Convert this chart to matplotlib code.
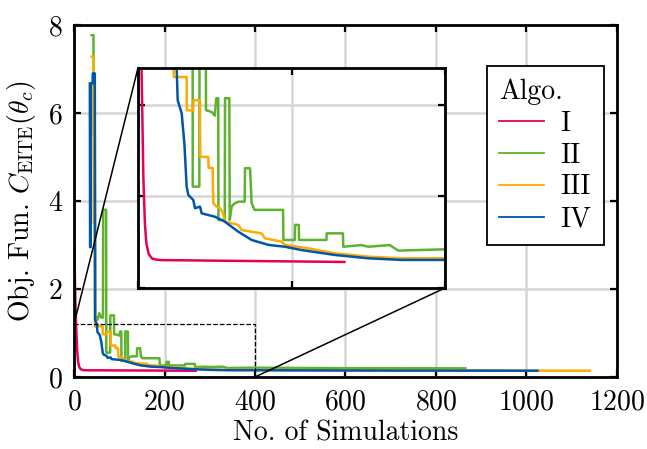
import numpy as np
import matplotlib
matplotlib.use("Agg")
import matplotlib.pyplot as plt
from matplotlib.patches import Rectangle, ConnectionPatch

plt.rcParams['font.family'] = 'serif'
plt.rcParams['font.serif'] = ['cmr10']
plt.rcParams['mathtext.fontset'] = 'cm'
plt.rcParams['axes.formatter.use_mathtext'] = True
plt.rcParams['font.size'] = 20

# Daten der vier Algorithmen (Simulationen, Zielfunktion)
algo_labels = ['I', 'II', 'III', 'IV']
algo_colors = ['#E6005A', '#5DB22E', '#FFAA00', '#0057A8']

x_i = [1, 2, 3.5, 5, 7, 9, 11, 14, 18, 22, 30, 60, 100, 150, 200, 269]
y_i = [3.0, 2.2, 1.5, 1.1, 0.6, 0.35, 0.24, 0.185, 0.162, 0.156, 0.152, 0.151, 0.149,
       0.147, 0.145, 0.142]

x_ii = [39, 43, 43.5, 46, 47, 52, 56, 60, 64, 64.5, 71, 71.3, 79.9, 80.2, 88.3, 88.6, 96,
        100, 102, 104.5, 104.8, 113, 113.4, 119, 119.5, 122, 126, 131, 139, 139.4, 146,
        148, 152, 189, 189.5, 204.3, 204.6, 209.5, 209.8, 245.5, 245.8, 267, 267.5, 291,
        300, 328, 339, 400, 500, 600, 700, 800, 865]
y_ii = [7.77, 7.77, 5.5, 5.5, 1.4, 1.3, 1.45, 1.35, 1.35, 3.8, 3.8, 0.553, 0.553, 1.4,
        1.4, 0.97, 0.96, 0.94, 1.035, 1.035, 0.371, 0.371, 1.035, 1.035, 0.371, 0.444,
        0.462, 0.471, 0.471, 0.653, 0.653, 0.462, 0.426, 0.426, 0.262, 0.262, 0.344, 0.344,
        0.262, 0.262, 0.298, 0.298, 0.225, 0.234, 0.225, 0.234, 0.204, 0.211, 0.205, 0.2,
        0.2, 0.198, 0.196]

x_iii = [39, 43, 43.5, 46, 46.5, 63.4, 63.6, 72, 72.3, 80.8, 81, 91.6, 92, 97.3, 98.1,
         102.5, 106.8, 111, 113, 130.7, 135, 161, 165.5, 187, 191.5, 222, 256.7, 300,
         343.6, 400, 500, 600, 700, 800, 900, 1000, 1140]
y_iii = [7.28, 7.28, 3.5, 3.5, 1.151, 1.151, 0.969, 0.969, 1.024, 1.024, 0.715, 0.715,
         0.655, 0.655, 0.462, 0.444, 0.435, 0.407, 0.362, 0.344, 0.316, 0.298, 0.271,
         0.253, 0.235, 0.216, 0.189, 0.171, 0.162, 0.162, 0.155, 0.152, 0.15, 0.148,
         0.146, 0.145, 0.143]

x_iv = [35, 35.5, 36.5, 37, 41, 41.5, 46, 46.5, 50.4, 51.7, 56.9, 60.4, 63.4, 65.6, 72,
        74.3, 80.8, 83, 100, 113, 122, 130.7, 148, 170, 191.5, 213, 256.7, 300, 343.6,
        400, 500, 600, 700, 800, 900, 1024]
y_iv = [6.67, 2.95, 2.95, 6.67, 6.67, 6.9, 6.9, 1.3, 1.2, 1.024, 0.953, 0.789, 0.553,
        0.507, 0.48, 0.435, 0.444, 0.407, 0.389, 0.362, 0.334, 0.307, 0.262, 0.235,
        0.225, 0.207, 0.18, 0.162, 0.153, 0.153, 0.15, 0.148, 0.146, 0.145, 0.144, 0.142]

serien = [(x_i, y_i), (x_ii, y_ii), (x_iii, y_iii), (x_iv, y_iv)]

x_ticks = [0, 200, 400, 600, 800, 1000, 1200]
y_ticks = [0, 2, 4, 6, 8]
zoom_x = (0, 400)
zoom_y = (0, 1.2)


def achsen_stil(ax):
    ax.grid(True, color='#d6d6d6', linewidth=1.8)
    ax.set_axisbelow(True)
    ax.tick_params(direction='in', top=True, right=True, length=5, width=1.6)
    for s in ax.spines.values():
        s.set_linewidth(2.0)
        s.set_color('black')


fig = plt.figure(figsize=(6.47, 4.49), dpi=100)
ax = fig.add_axes([0.1144, 0.1604, 0.8392, 0.7839])

for (xs, ys), lab, col in zip(serien, algo_labels, algo_colors):
    ax.plot(xs, ys, color=col, linewidth=1.8, label=lab)

ax.set_xlim(0, 1200)
ax.set_ylim(0, 8)
ax.set_xticks(x_ticks)
ax.set_yticks(y_ticks)
achsen_stil(ax)
ax.tick_params(axis='x', pad=9)
ax.tick_params(axis='y', pad=8)
ax.set_xlabel('No. of Simulations', labelpad=3)
ax.set_ylabel(r'Obj. Fun. $C_{\mathrm{EITE}}(\theta_c)$', labelpad=7)

leg = ax.legend(title='Algo.', loc='upper right', bbox_to_anchor=(0.976, 0.884),
                borderaxespad=0, fancybox=False, edgecolor='black', framealpha=1,
                handlelength=1.6, borderpad=0.45, labelspacing=0.2, handletextpad=0.6)
leg.get_frame().set_linewidth(1.3)
leg._legend_box.align = 'left'
for h in leg.get_lines():
    h.set_linewidth(1.3)

# Zoom-Rahmen im Hauptplot
ax.add_patch(Rectangle((zoom_x[0], zoom_y[0]), zoom_x[1] - zoom_x[0], zoom_y[1] - zoom_y[0],
                       fill=False, edgecolor='black', linestyle='--', linewidth=0.9,
                       zorder=5))

# Inset
axin = fig.add_axes([0.2133, 0.3586, 0.4745, 0.49])
for (xs, ys), col in zip(serien, algo_colors):
    axin.plot(xs, ys, color=col, linewidth=1.8)
axin.set_xlim(*zoom_x)
axin.set_ylim(*zoom_y)
axin.set_xticks([0, 200, 400])
axin.set_yticks([0, 0.5, 1.0])
axin.set_xticklabels([])
axin.set_yticklabels([])
achsen_stil(axin)

for p_main, p_in in [((zoom_x[0], zoom_y[1]), (0, 1)), ((zoom_x[1], zoom_y[0]), (1, 0))]:
    con = ConnectionPatch(xyA=p_main, coordsA=ax.transData, xyB=p_in,
                          coordsB=axin.transAxes, color='black', linewidth=1.1)
    fig.add_artist(con)

fig.savefig('out.png', dpi=100)
